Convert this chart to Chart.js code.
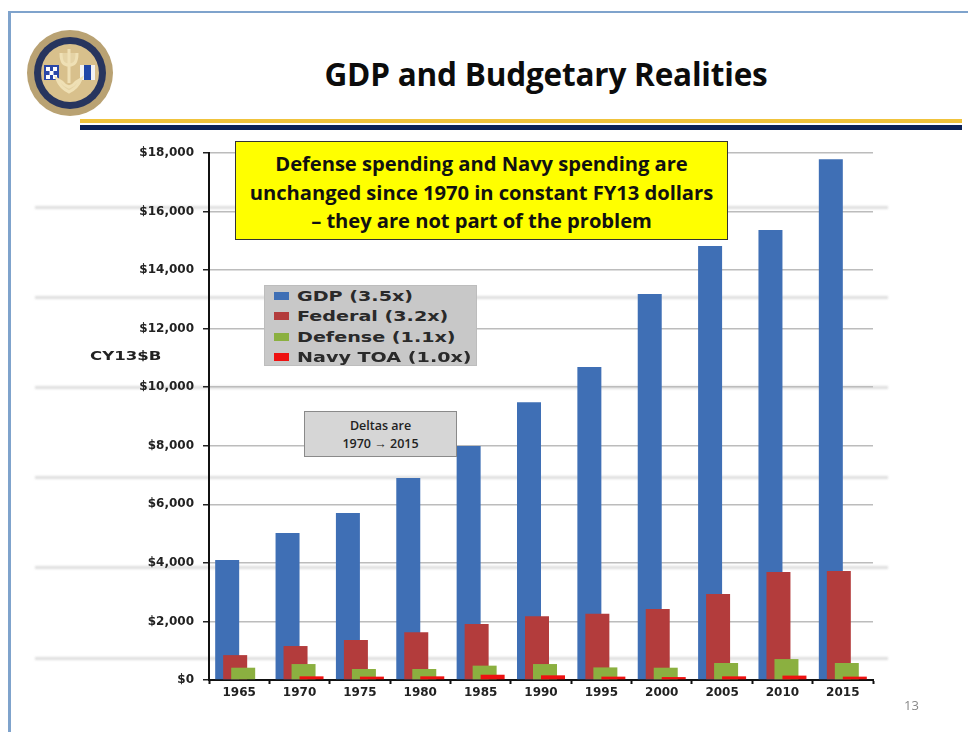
<!DOCTYPE html>
<html><head><meta charset="utf-8">
<script src="https://cdn.jsdelivr.net/npm/chart.js@4"></script>
<style>
html,body{margin:0;padding:0;background:#fff;width:968px;height:732px;overflow:hidden}
#stage{position:relative;width:968px;height:732px;font-family:"Open Sans",sans-serif}
.abs{position:absolute}
#frameT{left:8px;top:11px;width:960px;height:2px;background:#7fa3cc}
#frameL{left:8px;top:11px;width:2.5px;height:721px;background:#7fa3cc}
#title{left:246px;width:600px;top:54px;text-align:center;font-weight:700;font-size:31.5px;line-height:40px;color:#0c0c0c;letter-spacing:-.2px}
#gold{left:80px;top:119px;width:882px;height:4px;background:#f0c33c}
#navy{left:80px;top:125px;width:882px;height:5px;background:#0c2257}
.band{left:35px;width:853px;height:3px;background:#dedede;filter:blur(.8px)}
#chartWrap{left:0;top:0;width:968px;height:732px}
#callout{left:235px;top:141px;width:491px;background:#ffff00;border:1.5px solid #333;text-align:center;font-weight:700;font-size:20.2px;line-height:28.5px;color:#111;padding-top:7px;height:90px;letter-spacing:-.05px;white-space:nowrap}
#legendBox{left:264px;top:285px;width:213px;height:81px;background:#c8c8c8;border:1px solid #bdbdbd;box-sizing:border-box}
.lg{position:absolute;left:9px;height:20px;font:bold 14.5px "DejaVu Sans",sans-serif;color:#2a2a2a;line-height:20px;white-space:nowrap}
.lg i{position:absolute;left:0;top:6px;width:15px;height:8px}
.lg span{position:absolute;left:23px;top:0;transform:scaleX(1.32);transform-origin:left center}
#deltas{left:304px;top:411px;width:153px;height:46px;background:#d6d6d6;border:1.5px solid #8a8a8a;box-sizing:border-box;text-align:center;font-weight:600;font-size:12.5px;line-height:17.5px;color:#222;padding-top:5px}
#yname{left:90px;top:348px;font:bold 12px "DejaVu Sans",sans-serif;color:#222;line-height:16px;transform:scaleX(1.38);transform-origin:left center}
#page{left:904px;top:696px;font-size:13px;line-height:18px;color:#888}
</style></head>
<body><div id="stage">
<div class="abs" id="frameT"></div><div class="abs" id="frameL"></div>
<svg class="abs" style="left:26px;top:29px" width="88" height="88" viewBox="0 0 88 88">
<circle cx="44" cy="44" r="43" fill="#b9a273"/>
<circle cx="44" cy="44" r="36" fill="#27355e"/>
<circle cx="44" cy="44" r="29" fill="#d8c08c"/>
<rect x="18" y="36" width="15" height="15" fill="#2a47a8"/><rect x="20" y="38" width="4" height="4" fill="#fff"/><rect x="27" y="38" width="4" height="4" fill="#fff"/><rect x="23.5" y="42" width="4" height="4" fill="#fff"/><rect x="20" y="46" width="4" height="4" fill="#fff"/><rect x="27" y="46" width="4" height="4" fill="#fff"/>
<rect x="54" y="36" width="15" height="15" fill="#f2f2f2"/><rect x="58" y="36" width="7" height="15" fill="#1f46a8"/>
<path d="M43 20v34M35 24c0 10 3 12 8 12s8-2 8-12M31 50c3 8 8 11 12 13c4-2 9-5 12-13l-5 3c-2 3-4 4-7 5c-3-1-5-2-7-5z" stroke="#efe0b5" stroke-width="3" fill="#efe0b5" fill-opacity=".6"/>
</svg>
<div class="abs" id="title">GDP and Budgetary Realities</div>
<div class="abs" id="gold"></div><div class="abs" id="navy"></div>
<div class="abs band" style="top:206px"></div>
<div class="abs band" style="top:296px"></div>
<div class="abs band" style="top:386px"></div>
<div class="abs band" style="top:476px"></div>
<div class="abs band" style="top:566px"></div>
<div class="abs band" style="top:657px"></div>
<div class="abs" id="chartWrap"><canvas id="c" width="968" height="732" style="width:968px;height:732px;filter:blur(.35px)"></canvas></div>
<div class="abs" id="callout">Defense spending and Navy spending are<br>unchanged since 1970 in constant FY13 dollars<br>– they are not part of the problem</div>
<div class="abs" id="legendBox"></div>
<div class="abs" id="deltas">Deltas are<br>1970 → 2015</div>
<div class="abs" id="yname">CY13$B</div>
<div class="abs" id="page">13</div>
</div>
<script>
const categories = ["1965","1970","1975","1980","1985","1990","1995","2000","2005","2010","2015"];
const gdp = [4100,5020,5700,6900,7990,9490,10690,13180,14820,15370,17790];
const federal = [850,1160,1365,1630,1910,2175,2265,2425,2935,3690,3720];
const defense = [420,545,375,375,490,545,430,420,580,715,580];
const navy = [null,125,115,125,180,160,115,100,125,150,115];
const seriesNames = ["GDP (3.5x)","Federal (3.2x)","Defense (1.1x)","Navy TOA (1.0x)"];
const seriesColors = ["#3f6fb5","#b33c3c","#8bb040","#ee1111"];
const seriesValues = [gdp,federal,defense,navy];

const drawInOrder = {
  id:'drawInOrder',
  beforeDatasetsDraw(chart){
    chart.data.datasets.forEach((d,i)=>chart.getDatasetMeta(i).controller.draw());
    return false;
  }
};
const chart = new Chart(document.getElementById('c'),{
  type:'bar',
  plugins:[drawInOrder],
  data:{labels:categories,datasets:seriesNames.map((n,i)=>({
    label:n,data:seriesValues[i],backgroundColor:seriesColors[i],borderWidth:0,
    categoryPercentage:0.53,barPercentage:3
  }))},
  options:{
    responsive:false,animation:false,devicePixelRatio:1,
    layout:{padding:{left:0,right:95,top:153,bottom:0}},
    plugins:{legend:{display:false},title:{display:false},tooltip:{enabled:false}},
    scales:{
      x:{
        afterFit(s){s.height=52},
        grid:{drawOnChartArea:false,drawTicks:true,tickLength:4,tickColor:'#111',tickWidth:2},
        border:{color:'#111',width:2},
        ticks:{color:'#222',font:{family:'"DejaVu Sans"',weight:'bold',size:12},padding:2,maxRotation:0,autoSkip:false}
      },
      y:{
        min:0,max:18000,
        afterFit(s){s.width=209},
        grid:{color:'#bcbcbc',lineWidth:1.5,tickColor:'#222',tickLength:6,tickWidth:1.5},
        border:{color:'#111',width:2},
        ticks:{stepSize:2000,color:'#222',padding:9,font:{family:'"DejaVu Sans"',weight:'bold',size:12},
          callback:v=>'$'+v.toLocaleString('en-US')}
      }
    }
  }
});
const box=document.getElementById('legendBox');
seriesNames.forEach((n,i)=>{
  const d=document.createElement('div');d.className='lg';d.style.top=(0+i*20.3)+'px';
  const sw=document.createElement('i');sw.style.background=seriesColors[i];
  const tx=document.createElement('span');tx.textContent=n;
  d.appendChild(sw);d.appendChild(tx);box.appendChild(d);
});
</script>
</body></html>
